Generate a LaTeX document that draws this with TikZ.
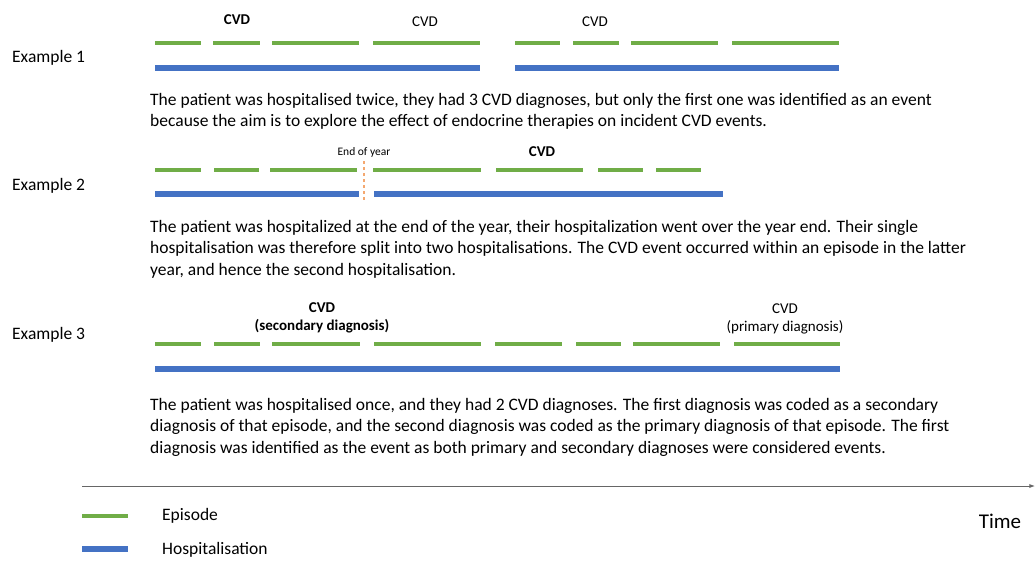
\documentclass[tikz,border=0pt]{standalone}
\usepackage{fontspec}
\setmainfont{Carlito}
\usepackage{tikz}
\usetikzlibrary{positioning,arrows.meta}
\usepackage{xcolor}
\definecolor{epgreen}{HTML}{70AD47}
\definecolor{hospblue}{HTML}{4472C4}
\definecolor{yearorange}{HTML}{F4A870}

\begin{document}
\begin{tikzpicture}[
  x=1pt, y=-1pt,
  font=\fontsize{17.5}{21.5}\selectfont,
  ep/.style={epgreen, line width=4.5pt},
  hosp/.style={hospblue, line width=5.5pt},
  exlabel/.style={anchor=west, inner sep=0pt},
  para/.style={anchor=north west, align=left, inner sep=0pt},
  cvd/.style={font=\fontsize{15}{18}\selectfont, align=center, inner sep=0pt},
  legtext/.style={anchor=west, inner sep=0pt},
  timeaxis/.style={-{Latex[length=2mm]}, gray!80!black, line width=1pt}
]
\useasboundingbox (0,0) rectangle (1035,560);
% ---- Example 1: two hospitalisations ----
\node[exlabel] (ex1) at (12,58) {Example 1};
\foreach \a/\b in {155/201, 213/260, 272/359, 373/480, 515/560, 573/619, 631/718, 732/839}
  \draw[ep] (\a,43) -- (\b,43);
\foreach \a/\b in {155/480, 515/839}
  \draw[hosp] (\a,68) -- (\b,68);
\node[cvd] (c1a) at (237,20) {\textbf{CVD}};
\node[cvd] (c1b) at (425,22) {CVD};
\node[cvd] (c1c) at (595,22) {CVD};
\node[para] (p1) at (150,93) {The patient was hospitalised twice, they had 3 CVD diagnoses, but only the first one was identified as an event\\
because the aim is to explore the effect of endocrine therapies on incident CVD events.};
% ---- Example 2: split at end of year ----
\node[exlabel] (ex2) at (12,186) {Example 2};
\foreach \a/\b in {155/201, 214/259, 270/357, 373/481, 496/583, 598/643, 656/701}
  \draw[ep] (\a,170) -- (\b,170);
\foreach \a/\b in {155/359, 374/723}
  \draw[hosp] (\a,194) -- (\b,194);
\node[font=\fontsize{11.5}{13}\selectfont, inner sep=1pt] (eoy) at (364,152) {End of year};
\coordinate (eoyend) at (364,200);
\draw[yearorange, dash pattern=on 3pt off 3pt, line width=1.3pt, shorten <=3pt] (eoy.south) -- (eoyend);
\node[cvd] (c2) at (542,152) {\textbf{CVD}};
\node[para] (p2) at (150,220) {The patient was hospitalized at the end of the year, their hospitalization went over the year end. Their single\\
hospitalisation was therefore split into two hospitalisations. The CVD event occurred within an episode in the latter\\
year, and hence the second hospitalisation.};
% ---- Example 3: one hospitalisation, two diagnoses ----
\node[exlabel] (ex3) at (12,335) {Example 3};
\foreach \a/\b in {155/201, 214/260, 272/360, 374/481, 495/562, 576/621, 633/720, 734/840}
  \draw[ep] (\a,344) -- (\b,344);
\draw[hosp] (155,369) -- (840,369);
\node[cvd] (c3a) at (322,318) {\textbf{CVD}\\\textbf{(secondary diagnosis)}};
\node[cvd] (c3b) at (785,319) {CVD\\(primary diagnosis)};
\node[para] (p3) at (150,398) {The patient was hospitalised once, and they had 2 CVD diagnoses. The first diagnosis was coded as a secondary\\
diagnosis of that episode, and the second diagnosis was coded as the primary diagnosis of that episode. The first\\
diagnosis was identified as the event as both primary and secondary diagnoses were considered events.};
% ---- Time axis and legend ----
\coordinate (tstart) at (82,486);
\coordinate (tend) at (1035,486);
\draw[timeaxis] (tstart) -- (tend);
\node[font=\fontsize{21}{24}\selectfont, inner sep=0pt] (time) at (1000,521) {Time};
\draw[ep] (82,516) -- (128,516);
\node[legtext] (lep) at (162,516) {Episode};
\draw[hosp] (82,549) -- (128,549);
\node[legtext] (lhosp) at (162,550) {Hospitalisation};
\end{tikzpicture}
\end{document}
